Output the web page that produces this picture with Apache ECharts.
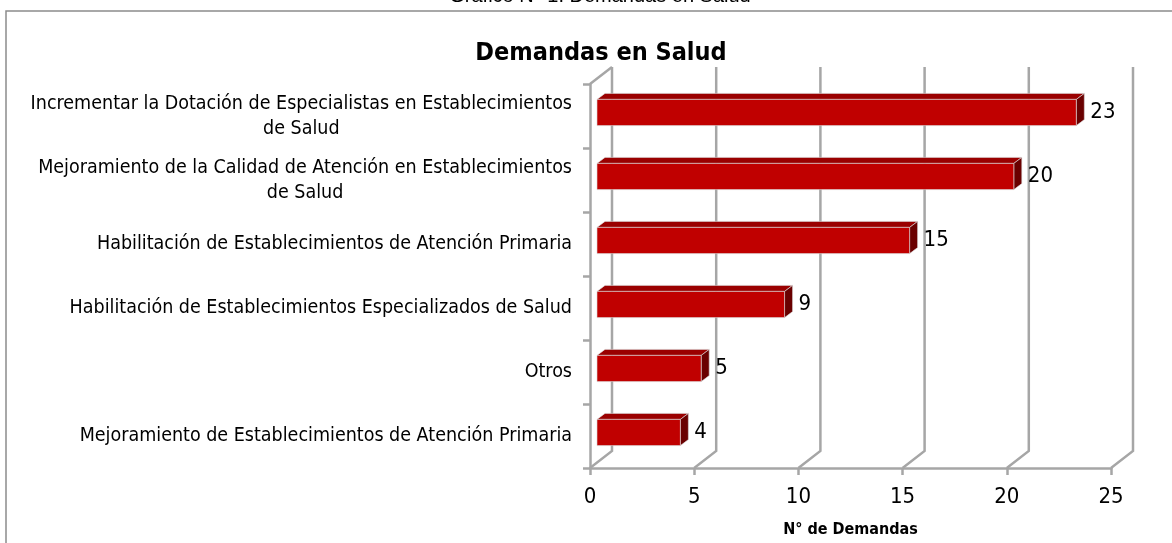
<!DOCTYPE html>
<html>
<head>
<meta charset="utf-8">
<script src="https://cdn.jsdelivr.net/npm/echarts@6/dist/echarts.min.js"></script>
<style>
  html, body { margin: 0; padding: 0; background: #fff; }
  #chart { width: 1172px; height: 543px; }
</style>
</head>
<body>
<div id="chart"></div>
<script>
// datos del gráfico
var categorias = [
  'Incrementar la Dotación de Especialistas en Establecimientos\nde Salud',
  'Mejoramiento de la Calidad de Atención en Establecimientos\nde Salud',
  'Habilitación de Establecimientos de Atención Primaria',
  'Habilitación de Establecimientos Especializados de Salud',
  'Otros',
  'Mejoramiento de Establecimientos de Atención Primaria'
];
var demandas = [23, 20, 15, 9, 5, 4];
var ticksX = [0, 5, 10, 15, 20, 25];

var FONT = '"Liberation Sans Narrow", "DejaVu Sans Condensed", "Liberation Sans", sans-serif';
var GRIS = '#a6a6a6';
// profundidad del efecto 3D (pared del fondo)
var DX = 22, DY = -17;
// desplazamiento de la cara frontal y trasera de las barras
var FRENTE = [7, -3.5], FONDO = [15, -9.5];

var myChart = echarts.init(document.getElementById('chart'));

function renderPared(params, api) {
  var v = api.value(0);
  var cs = params.coordSys;
  var p = api.coord([v, 0]);
  var x0 = p[0];
  var yBot = cs.y + cs.height;
  var yTop = cs.y;
  var st = { stroke: GRIS, lineWidth: 2.5, fill: null };
  var kids = [
    { type: 'polyline', shape: { points: [[x0, yBot], [x0 + DX, yBot + DY], [x0 + DX, yTop + DY]] }, style: st }
  ];
  if (v === 0) {
    kids.push({ type: 'line', shape: { x1: x0, y1: yTop, x2: x0 + DX, y2: yTop + DY }, style: st });
  }
  return { type: 'group', children: kids };
}

function renderBarra(params, api) {
  var idx = api.value(0);
  var val = api.value(1);
  var a = api.coord([0, idx]);
  var b = api.coord([val, idx]);
  var band = api.size([0, 1])[1];
  var h = band * 0.41;
  var x1 = a[0] + FRENTE[0], x2 = b[0] + FRENTE[0];
  var yT = a[1] + FRENTE[1] - h / 2, yB = a[1] + FRENTE[1] + h / 2;
  var ox = FONDO[0] - FRENTE[0], oy = FONDO[1] - FRENTE[1];
  return {
    type: 'group',
    children: [
      { type: 'polygon', shape: { points: [[x1, yT], [x2, yT], [x2 + ox, yT + oy], [x1 + ox, yT + oy]] },
        style: { fill: '#9a0000', stroke: '#d8d8d8', lineWidth: 0.6 } },
      { type: 'polygon', shape: { points: [[x2, yT], [x2 + ox, yT + oy], [x2 + ox, yB + oy], [x2, yB]] },
        style: { fill: '#6a0000', stroke: '#d8d8d8', lineWidth: 0.6 } },
      { type: 'rect', shape: { x: x1, y: yT, width: x2 - x1, height: h },
        style: { fill: '#c00000', stroke: '#d8d8d8', lineWidth: 0.6 } },
      { type: 'text', x: x2 + ox + 6, y: (yT + yB) / 2,
        style: { text: String(val), font: '22px ' + FONT, fill: '#000', textAlign: 'left', textVerticalAlign: 'middle' } }
    ]
  };
}

var option = {
  animation: false,
  title: {
    text: 'Demandas en Salud',
    left: 596,
    top: 36,
    textAlign: 'center',
    textStyle: { fontFamily: FONT, fontSize: 25, fontWeight: 'bold', color: '#000' }
  },
  graphic: [
    { type: 'rect', shape: { x: 6, y: 11, width: 1300, height: 700 },
      style: { fill: null, stroke: '#8c8c8c', lineWidth: 1.5 } },
    { type: 'text', x: 600, y: -4,
      style: { text: 'Gráfico N° 1: Demandas en Salud', font: '20px "Liberation Sans", Arial, sans-serif',
        fill: '#000', textAlign: 'center', textVerticalAlign: 'middle' } }
  ],
  grid: { left: 590, right: 61, top: 84, bottom: 73 },
  xAxis: {
    type: 'value',
    min: 0, max: 25, interval: 5,
    name: 'N° de Demandas',
    nameLocation: 'middle',
    nameGap: 54,
    nameTextStyle: { fontFamily: FONT, fontSize: 16, fontWeight: 'bold', color: '#000' },
    axisLine: { show: true, lineStyle: { color: GRIS, width: 2.5 } },
    axisTick: { show: true, length: 7, lineStyle: { color: GRIS, width: 2.5 } },
    axisLabel: { fontFamily: FONT, fontSize: 22, color: '#000', margin: 18 },
    splitLine: { show: false }
  },
  yAxis: {
    type: 'category',
    inverse: true,
    data: categorias,
    axisLine: { show: true, lineStyle: { color: GRIS, width: 2.5 } },
    axisTick: { show: true, length: 7, lineStyle: { color: GRIS, width: 2.5 } },
    axisLabel: {
      margin: 18,
      formatter: function (v) {
        return v.split('\n').map(function (s) { return '{c|' + s + '}'; }).join('\n');
      },
      rich: { c: { fontFamily: FONT, fontSize: 19.5, color: '#000', align: 'center', lineHeight: 25 } }
    },
    splitLine: { show: false }
  },
  series: [
    {
      type: 'custom',
      renderItem: renderPared,
      data: ticksX.map(function (t) { return [t]; }),
      encode: { x: 0 },
      silent: true,
      z: 1
    },
    {
      type: 'custom',
      renderItem: renderBarra,
      data: demandas.map(function (d, i) { return [i, d]; }),
      encode: { y: 0, x: 1 },
      z: 3
    }
  ]
};
myChart.setOption(option);
</script>
</body>
</html>
